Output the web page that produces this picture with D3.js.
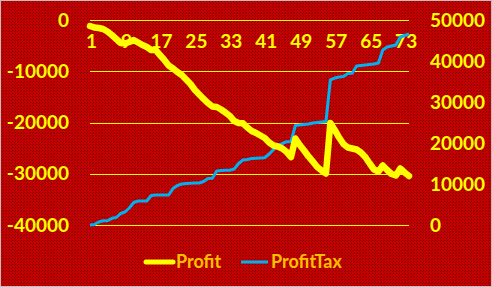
<!DOCTYPE html>
<html>
<head>
<meta charset="utf-8">
<script src="https://cdn.jsdelivr.net/npm/d3@7"></script>
<style>
  body { margin: 0; background: #fff; }
</style>
</head>
<body>
<div id="chart"></div>
<script>
// periods 1..74
const periods = d3.range(1, 75);
const xTicks = [1, 9, 17, 25, 33, 41, 49, 57, 65, 73];
const leftTicks = [0, -10000, -20000, -30000, -40000];
const rightTicks = [0, 10000, 20000, 30000, 40000, 50000];

const profit = [
  -1170, -1460, -1560, -1760, -2240, -2930, -3710, -4490, -4590, -4290,
  -3900, -4390, -4880, -5270, -5850, -5850, -6830, -7800, -8880, -9460,
  -10150, -10730, -11610, -12490, -13660, -14540, -15410, -16200, -16880, -16980,
  -17460, -18050, -18730, -19710, -20100, -20160, -20980, -21660, -22050, -22540,
  -23020, -23900, -24490, -24680, -25070, -25760, -26730, -23120, -24390, -25460,
  -26630, -27610, -28680, -29370, -29950, -20100, -21460, -22930, -24200, -24880,
  -25070, -25270, -25850, -26730, -28000, -29170, -29560, -28390, -29270, -30050,
  -30340, -28980, -29760, -30440
];

const profitTax = [
  0, 120, 730, 1050, 1050, 1630, 1830, 2800, 3170, 4150,
  5490, 5850, 5850, 5850, 7200, 7320, 7320, 7320, 7320, 8900,
  9630, 10000, 10120, 10170, 10240, 10240, 10610, 11340, 11390, 13170,
  13290, 13340, 13370, 13660, 15000, 15850, 15980, 16220, 16270, 16340,
  16410, 17320, 18410, 19270, 19880, 20320, 20370, 24270, 24390, 24510,
  24630, 24880, 25000, 25120, 25240, 35370, 35850, 36100, 36220, 36950,
  37000, 38780, 38900, 39020, 39150, 39270, 39510, 42680, 43410, 43660,
  43900, 45850, 46220, 46590
];

const width = 492;
const height = 287;
const marginTop = 20;
const marginBottom = 62;
const marginLeft = 90;
const marginRight = 83;

const x = d3.scalePoint()
  .domain(periods)
  .range([marginLeft, width - marginRight]);

const yL = d3.scaleLinear()
  .domain([-40000, 0])
  .range([height - marginBottom, marginTop]);

const yR = d3.scaleLinear()
  .domain([0, 50000])
  .range([height - marginBottom, marginTop]);

const svg = d3.select("#chart")
  .append("svg")
  .attr("width", width)
  .attr("height", height)
  .attr("viewBox", [0, 0, width, height])
  .style("font-family", "Lato, 'Open Sans', sans-serif")
  .style("font-weight", "bold");

// dotted dark red fill, like the office texture
const pat = svg.append("defs").append("pattern")
  .attr("id", "tex")
  .attr("width", 3).attr("height", 3)
  .attr("patternUnits", "userSpaceOnUse");
pat.append("rect").attr("width", 3).attr("height", 3).attr("fill", "#C40000");
pat.append("rect").attr("x", 0).attr("y", 0).attr("width", 1).attr("height", 1).attr("fill", "#7A0000");
pat.append("rect").attr("x", 2).attr("y", 1).attr("width", 1).attr("height", 1).attr("fill", "#8E0000");

// background + border
svg.append("rect")
  .attr("x", 0.5).attr("y", 0.5)
  .attr("width", width - 1).attr("height", height - 1)
  .attr("fill", "url(#tex)")
  .attr("stroke", "#BFBFBF");

// gridlines
svg.append("g")
  .selectAll("line")
  .data(leftTicks)
  .join("line")
  .attr("x1", marginLeft)
  .attr("x2", width - marginRight)
  .attr("y1", d => Math.round(yL(d)) + 0.5)
  .attr("y2", d => Math.round(yL(d)) + 0.5)
  .attr("stroke", "#FFFF00")
  .attr("stroke-width", 1);

// left axis
const gl = svg.append("g")
  .attr("transform", `translate(${marginLeft},0)`)
  .call(d3.axisLeft(yL).tickValues(leftTicks).tickSize(0).tickPadding(21).tickFormat(d => String(d)));
gl.select(".domain").remove();

// right axis
const gr = svg.append("g")
  .attr("transform", `translate(${width - marginRight},0)`)
  .call(d3.axisRight(yR).tickValues(rightTicks).tickSize(0).tickPadding(21).tickFormat(d => String(d)));
gr.select(".domain").remove();

// category axis sits at the zero line, labels below it
const gx = svg.append("g")
  .attr("transform", `translate(0,${yL(0)})`)
  .call(d3.axisBottom(x).tickValues(xTicks).tickSize(0).tickPadding(0));
gx.select(".domain").remove();
gx.selectAll("text").attr("y", 28).attr("dy", "0").attr("dx", 1);

svg.selectAll(".tick text")
  .attr("fill", "#FFFF00")
  .style("font-size", "19px")
  .style("font-family", "Lato, 'Open Sans', sans-serif")
  .style("font-weight", "bold");

// lines
svg.append("path")
  .datum(profitTax)
  .attr("fill", "none")
  .attr("stroke", "#00B0F0")
  .attr("stroke-width", 3)
  .attr("stroke-linejoin", "round")
  .attr("d", d3.line().x((d, i) => x(periods[i])).y(d => yR(d)));

svg.append("path")
  .datum(profit)
  .attr("fill", "none")
  .attr("stroke", "#FFFF00")
  .attr("stroke-width", 6.5)
  .attr("stroke-linejoin", "round")
  .attr("stroke-linecap", "round")
  .attr("d", d3.line().x((d, i) => x(periods[i])).y(d => yL(d)));

// legend
const legend = [
  { name: "Profit", color: "#FFFF00", w: 5, x: 146 },
  { name: "ProfitTax", color: "#00B0F0", w: 3, x: 241 }
];
const lg = svg.append("g")
  .selectAll("g")
  .data(legend)
  .join("g")
  .attr("transform", d => `translate(${d.x},262)`);
lg.append("line")
  .attr("x1", 0).attr("x2", 27)
  .attr("stroke", d => d.color)
  .attr("stroke-width", d => d.w)
  .attr("stroke-linecap", d => d.name === "Profit" ? "round" : "butt");
lg.append("text")
  .attr("x", 30)
  .attr("dy", "0.35em")
  .attr("fill", "#FFC000")
  .style("font-size", "18px")
  .text(d => d.name);
</script>
</body>
</html>
